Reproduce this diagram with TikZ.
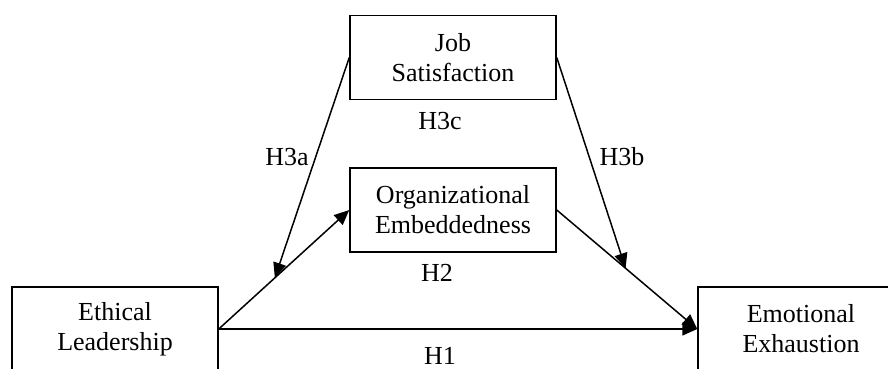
\documentclass[tikz,border=0pt]{standalone}
\usepackage{fontspec}
\setmainfont{Liberation Serif}
\usetikzlibrary{arrows.meta, positioning}

\begin{document}
\begin{tikzpicture}[x=1pt, y=-1pt, line width=1.5pt,
    box/.style={draw, rectangle, minimum width=206pt, minimum height=84pt, inner sep=0pt, align=center, font=\fontsize{26}{30}\selectfont},
    lbl/.style={font=\fontsize{26}{30}\selectfont},
    arr/.style={-{Triangle[length=15pt, width=13pt]}}]
    \clip (0,0) rectangle (888,369);
    \useasboundingbox (0,0) rectangle (888,369);

    % Kästen
    \node[box] (job) at (453,57.5) {Job\\Satisfaction};
    \node[box] (org) at (453,210) {Organizational\\Embeddedness};
    \node[box] (lead) at (115,329) {Ethical\\Leadership};
    \node[box] (exh) at (801,329) {Emotional\\Exhaustion};

    % H1: direkter Pfad
    \draw[arr] (lead.east) -- (exh.west);

    % H2: Mediation
    \draw[arr] (lead.east) -- coordinate[pos=0.43] (mida) (org.west);
    \draw[arr] (org.east) -- coordinate[pos=0.49] (midb) (exh.west);

    % H3: Moderation
    \draw[arr] (job.west) -- (mida);
    \draw[arr] (job.east) -- (midb);

    % Beschriftungen
    \node[lbl] (h1) at (440,356) {H1};
    \node[lbl] (h2) at (437,273) {H2};
    \node[lbl] (h3a) at (287,157) {H3a};
    \node[lbl] (h3b) at (622,157) {H3b};
    \node[lbl] (h3c) at (440,121) {H3c};
\end{tikzpicture}
\end{document}
